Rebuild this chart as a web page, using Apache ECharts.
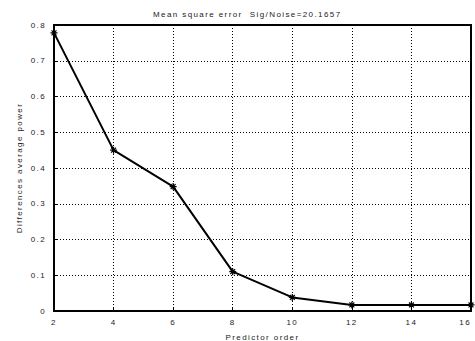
<!DOCTYPE html>
<html>
<head>
<meta charset="utf-8">
<script src="https://cdn.jsdelivr.net/npm/echarts@6/dist/echarts.min.js"></script>
<style>
  html, body { margin: 0; padding: 0; background: #fff; }
  #main { width: 475px; height: 341px; }
  #main svg text, #main svg tspan { letter-spacing: 1.4px !important; }
</style>
</head>
<body>
<div id="main"></div>
<script>
// predictor order vs mean square error
var orders = [2, 4, 6, 8, 10, 12, 14, 16];
var mse = [0.778, 0.45, 0.348, 0.11, 0.038, 0.017, 0.017, 0.017];
var titleText = 'Mean square error  Sig/Noise=20.1657';

var chart = echarts.init(document.getElementById('main'), null, { renderer: 'svg' });

var pts = [];
for (var i = 0; i < orders.length; i++) {
  pts.push([orders[i], mse[i]]);
}

var lbl = { color: '#222', fontSize: 8, fontFamily: 'Liberation Sans' };

var option = {
  backgroundColor: '#fff',
  animation: false,
  graphic: [{
    type: 'text',
    left: 153,
    top: 10,
    style: {
      text: titleText,
      fill: '#222',
      font: '8px "Liberation Sans"'
    }
  }],
  grid: {
    left: 54, right: 4, top: 25, bottom: 30,
    outerBoundsMode: 'none',
    containLabel: false,
    show: true, borderColor: '#000', borderWidth: 2
  },
  xAxis: {
    type: 'value',
    min: 2, max: 16, interval: 2,
    name: 'Predictor order',
    nameLocation: 'middle',
    nameGap: 22,
    nameTextStyle: lbl,
    axisLine: { lineStyle: { color: '#000', width: 2 } },
    axisTick: { inside: true, length: 4, lineStyle: { color: '#000' } },
    axisLabel: {
      color: '#222', fontSize: 8, margin: 7, fontFamily: 'Liberation Sans',
      alignMaxLabel: 'right'
    },
    splitLine: { show: true, lineStyle: { color: '#000', width: 1, type: [1, 2] } }
  },
  yAxis: {
    type: 'value',
    min: 0, max: 0.8, interval: 0.1,
    name: 'Differences average power',
    nameLocation: 'middle',
    nameGap: 31,
    nameTextStyle: lbl,
    axisLine: { lineStyle: { color: '#000', width: 2 } },
    axisTick: { inside: true, length: 4, lineStyle: { color: '#000' } },
    axisLabel: {
      color: '#222', fontSize: 8, margin: 8, fontFamily: 'Liberation Sans',
      formatter: function (v) { return v === 0 ? '0' : v.toFixed(1); }
    },
    splitLine: { show: true, lineStyle: { color: '#000', width: 1, type: [1, 2] } }
  },
  series: [{
    type: 'line',
    data: pts,
    symbol: 'path://M0 5L10 5M5 0L5 10M1.5 1.5L8.5 8.5M8.5 1.5L1.5 8.5',
    symbolSize: 7,
    itemStyle: { color: '#000', borderColor: '#000', borderWidth: 1.2 },
    lineStyle: { color: '#000', width: 2 }
  }]
};

chart.setOption(option);
</script>
</body>
</html>
